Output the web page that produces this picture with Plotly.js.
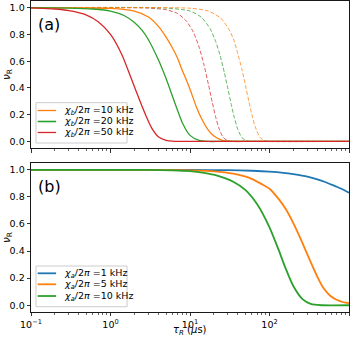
<!DOCTYPE html>
<html>
<head>
<meta charset="utf-8">
<script src="https://cdn.plot.ly/plotly-3.0.1.min.js"></script>
<style>html,body{margin:0;padding:0;background:#fff;}#chart{width:357px;height:337px;}</style>
</head>
<body>
<div id="chart"></div>
<script>
// ---- Panel (a): solid curves (chi_b) ----
const tauA50 = [0.1, 0.2, 0.3, 0.5, 0.7, 1.0, 1.4, 1.8, 2.3, 2.8, 3.3, 4.0, 5.0, 6.5, 10, 1000];
const nuA50  = [0.998, 0.99, 0.978, 0.945, 0.895, 0.80, 0.645, 0.48, 0.315, 0.19, 0.10, 0.035, 0.007, 0.0, 0.0, 0.0];
const tauA20 = [0.1, 0.3, 0.6, 1.0, 1.5, 2.0, 2.5, 3.0, 4.0, 5.0, 6.0, 7.0, 8.0, 10, 13, 17, 25, 1000];
const nuA20  = [1.0, 0.997, 0.99, 0.975, 0.94, 0.89, 0.83, 0.76, 0.61, 0.47, 0.34, 0.23, 0.14, 0.045, 0.008, 0.0, 0.0, 0.0];
const tauA10 = [0.1, 0.5, 1, 2, 3, 4, 5, 6, 7, 8, 9, 10, 12, 14, 17, 20, 25, 35, 50, 1000];
const nuA10  = [1.0, 0.998, 0.995, 0.975, 0.93, 0.86, 0.78, 0.70, 0.62, 0.53, 0.46, 0.39, 0.26, 0.17, 0.085, 0.04, 0.01, 0.0, 0.0, 0.0];
// ---- Panel (a): dashed curves ----
const tauD50 = [0.1, 3, 5, 7, 9, 11, 13, 15, 17, 19, 21, 23, 26, 30, 36, 50, 1000];
const nuD50  = [1.0, 0.997, 0.985, 0.956, 0.90, 0.818, 0.706, 0.572, 0.43, 0.296, 0.184, 0.102, 0.032, 0.004, 0.0, 0.0, 0.0];
const tauD20 = [0.1, 5, 10, 14, 18, 21, 24, 27, 30, 33, 36, 40, 45, 52, 60, 1000];
const nuD20  = [1.0, 0.997, 0.975, 0.927, 0.841, 0.749, 0.639, 0.516, 0.392, 0.277, 0.181, 0.089, 0.028, 0.003, 0.0, 0.0];
const tauD10 = [0.1, 10, 17, 24, 30, 35, 40, 45, 50, 55, 60, 66, 75, 85, 100, 1000];
const nuD10  = [1.0, 0.996, 0.975, 0.925, 0.85, 0.77, 0.655, 0.538, 0.415, 0.30, 0.201, 0.111, 0.035, 0.006, 0.0, 0.0];
// ---- Panel (b): chi_a ----
const tauB1  = [0.1, 10, 30, 60, 100, 150, 200, 300, 400, 500, 600, 700, 800, 900, 1000];
const nuB1   = [1.0, 0.999, 0.997, 0.993, 0.987, 0.978, 0.968, 0.95, 0.93, 0.91, 0.89, 0.875, 0.86, 0.845, 0.83];
const tauB5  = [0.1, 1, 5, 10, 20, 35, 55, 80, 100, 130, 160, 200, 240, 280, 330, 400, 480, 580, 700, 850, 1000];
const nuB5   = [1.0, 1.0, 0.999, 0.996, 0.989, 0.972, 0.942, 0.894, 0.86, 0.785, 0.71, 0.605, 0.505, 0.415, 0.318, 0.21, 0.125, 0.07, 0.04, 0.022, 0.015];
const tauB10 = [0.1, 1, 3, 6, 10, 15, 22, 35, 50, 70, 100, 130, 160, 200, 260, 330, 450, 1000];
const nuB10  = [1.0, 1.0, 0.999, 0.996, 0.99, 0.977, 0.957, 0.912, 0.85, 0.745, 0.575, 0.41, 0.27, 0.14, 0.045, 0.01, 0.0, 0.0];

const labelsA = ['<i>χ<sub>b</sub></i>/2<i>π</i> =10 kHz', '<i>χ<sub>b</sub></i>/2<i>π</i> =20 kHz', '<i>χ<sub>b</sub></i>/2<i>π</i> =50 kHz'];
const labelsB = ['<i>χ<sub>a</sub></i>/2<i>π</i> =1 kHz', '<i>χ<sub>a</sub></i>/2<i>π</i> =5 kHz', '<i>χ<sub>a</sub></i>/2<i>π</i> =10 kHz'];
const xTickVals = [0.1, 1, 10, 100, 1000];
const xTickText = ['10<sup>−1</sup>', '10<sup>0</sup>', '10<sup>1</sup>', '10<sup>2</sup>', '10<sup>3</sup>'];
const xTitle = '<i>τ<sub>R</sub></i> (<i>μ</i>s)';
const yTitle = '<i>ν</i><sub>R</sub>';

const C = {blue: '#1f77b4', orange: '#ff7f0e', green: '#2ca02c', red: '#d62728'};
const minorVals = [];
[0.1, 1, 10, 100].forEach(d => { for (let k = 2; k <= 9; k++) minorVals.push(d * k); });

function tr(x, y, color, width, dash, name, xa, ya, op) {
  return {x: x, y: y, type: 'scatter', mode: 'lines', name: name,
    line: {color: color, width: width, dash: dash, shape: 'spline', smoothing: 0.6},
    xaxis: xa, yaxis: ya, showlegend: false, opacity: op, hoverinfo: 'skip'};
}

const data = [
  tr(tauD50, nuD50, C.red, 1, '4px,2px', 'd50', 'x', 'y', 0.75),
  tr(tauD20, nuD20, C.green, 1, '4px,2px', 'd20', 'x', 'y', 0.75),
  tr(tauD10, nuD10, C.orange, 1, '4px,2px', 'd10', 'x', 'y', 0.75),
  tr(tauA10, nuA10, C.orange, 1.3, 'solid', labelsA[0], 'x', 'y', 1),
  tr(tauA20, nuA20, C.green, 1.3, 'solid', labelsA[1], 'x', 'y', 1),
  tr(tauA50, nuA50, C.red, 1.3, 'solid', labelsA[2], 'x', 'y', 1),
  tr(tauB1, nuB1, C.blue, 1.8, 'solid', labelsB[0], 'x2', 'y2', 1),
  tr(tauB5, nuB5, C.orange, 1.8, 'solid', labelsB[1], 'x2', 'y2', 1),
  tr(tauB10, nuB10, C.green, 1.8, 'solid', labelsB[2], 'x2', 'y2', 1)
];

const tickFont = {family: 'DejaVu Sans', size: 9.5, color: '#000'};
function xax(anchor, showLabels) {
  return {type: 'log', range: [-1, 3], anchor: anchor, domain: [0, 1],
    tickmode: 'array', tickvals: xTickVals, ticktext: xTickText, showticklabels: showLabels,
    ticks: 'outside', ticklen: 3.5, tickwidth: 0.8, tickcolor: '#000',
    minor: {tickvals: minorVals, ticks: 'outside', ticklen: 2, tickwidth: 0.6, tickcolor: '#000'},
    showline: true, linecolor: '#000', linewidth: 0.9, mirror: true,
    showgrid: false, zeroline: false, tickfont: tickFont};
}
function yax(anchor, domain) {
  return {range: [-0.05, 1.05], anchor: anchor, domain: domain,
    tickmode: 'linear', tick0: 0, dtick: 0.2, tickformat: '.1f',
    ticks: 'outside', ticklen: 3.5, tickwidth: 0.8, tickcolor: '#000',
    showline: true, linecolor: '#000', linewidth: 0.9, mirror: true,
    showgrid: false, zeroline: false, tickfont: tickFont,
    title: {text: yTitle, font: {family: 'DejaVu Sans', size: 10.5, color: '#000'}, standoff: 3}};
}

// Legend boxes (paper coordinates), keys and texts built from the label arrays
const legFont = {family: 'DejaVu Sans', size: 9.5, color: '#000'};
const legends = [
  {box: [0.0157, 0.5434, 0.302, 0.673], rows: [0.6479, 0.6125, 0.5772], labels: labelsA,
   colors: [C.orange, C.green, C.red], widths: [1.3, 1.6, 1.3]},
  {box: [0.0157, 0.017, 0.302, 0.1479], rows: [0.1244, 0.0891, 0.0514], labels: labelsB,
   colors: [C.blue, C.orange, C.green], widths: [1.8, 1.8, 1.8]}
];
const shapes = [];
const annotations = [];
legends.forEach(L => {
  shapes.push({type: 'rect', xref: 'paper', yref: 'paper', x0: L.box[0], y0: L.box[1], x1: L.box[2], y1: L.box[3],
    fillcolor: 'rgba(255,255,255,0.85)', line: {color: '#cccccc', width: 1}, layer: 'above'});
  L.rows.forEach((ry, i) => {
    shapes.push({type: 'line', xref: 'paper', yref: 'paper', x0: 0.021, x1: 0.079, y0: ry, y1: ry,
      line: {color: L.colors[i], width: L.widths[i]}, layer: 'above'});
    annotations.push({text: L.labels[i], xref: 'paper', yref: 'paper', x: 0.1, y: ry, xanchor: 'left', yanchor: 'middle',
      showarrow: false, font: legFont, borderpad: 0});
  });
});
annotations.push(
  {text: '(a)', xref: 'paper', yref: 'paper', x: 0.017, y: 0.926, xanchor: 'left', yanchor: 'middle',
    showarrow: false, font: {family: 'DejaVu Sans', size: 16, color: '#000'}},
  {text: '(b)', xref: 'paper', yref: 'paper', x: 0.017, y: 0.404, xanchor: 'left', yanchor: 'middle',
    showarrow: false, font: {family: 'DejaVu Sans', size: 16, color: '#000'}},
  {text: xTitle, xref: 'paper', yref: 'paper', x: 0.5, y: -0.060, xanchor: 'center', yanchor: 'middle',
    showarrow: false, font: {family: 'DejaVu Sans', size: 10, color: '#000'}, borderpad: 0}
);

const layout = {
  width: 357, height: 337,
  margin: {l: 31, r: 8, t: 1, b: 25},
  paper_bgcolor: '#fff', plot_bgcolor: '#fff',
  showlegend: false,
  xaxis: xax('y', false),
  yaxis: yax('x', [0.527, 1]),
  xaxis2: xax('y2', true),
  yaxis2: yax('x2', [0, 0.479]),
  shapes: shapes,
  annotations: annotations
};
Plotly.newPlot('chart', data, layout, {staticPlot: true, displayModeBar: false});
</script>
</body>
</html>
